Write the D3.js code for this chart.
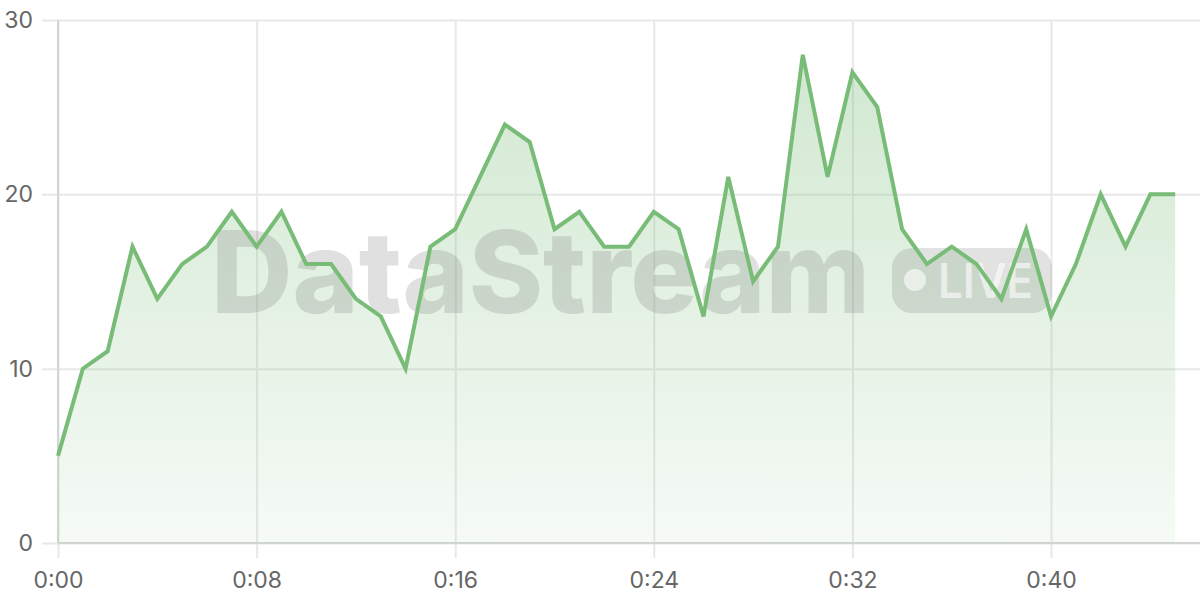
<!DOCTYPE html>
<html>
<head>
<meta charset="utf-8">
<script src="https://cdn.jsdelivr.net/npm/d3@7"></script>
<style>
	html, body { margin: 0; padding: 0; background: #fff; }
	#chart { width: 1200px; height: 600px; }
	text { font-family: Inter, "Open Sans", sans-serif; }
</style>
</head>
<body>
<div id="chart"></div>
<script>
'use strict'

/**
 * Data
 */
const seconds = d3.range(0, 46);
const values = [5, 10, 11, 17, 14, 16, 17, 19, 17, 19,
	16, 16, 14, 13, 10, 17, 18, 21, 24, 23,
	18, 19, 17, 17, 19, 18, 13, 21, 15, 17,
	28, 21, 27, 25, 18, 16, 17, 16, 14, 18,
	13, 16, 20, 17, 20, 20];
const xTicks = [0, 8, 16, 24, 32, 40];
const yTicks = [0, 10, 20, 30];

const width = 1200;
const height = 600;
const margin = { top: 20, right: 0, bottom: 57, left: 58 };

const lineColor = '#78bc78';
const gridColor = '#e8e8e8';
const axisColor = '#d2d6d2';
const labelColor = '#666';

function fmtTime(s) {
	return Math.floor(s / 60) + ':' + String(s % 60).padStart(2, '0');
}

function drawChart() {
	const points = seconds.map((s, i) => ({ s: s, v: values[i] }));

	const svg = d3.select('#chart')
		.html('')
		.append('svg')
		.attr('width', width)
		.attr('height', height);

	const x = d3.scaleLinear()
		.domain([0, 46])
		.range([margin.left, width - margin.right]);
	const y = d3.scaleLinear()
		.domain([0, 30])
		.range([height - margin.bottom, margin.top]);

	// gradient under the line
	const grad = svg.append('defs').append('linearGradient')
		.attr('id', 'fillGrad')
		.attr('gradientUnits', 'userSpaceOnUse')
		.attr('x1', 0).attr('x2', 0)
		.attr('y1', y(30)).attr('y2', y(0));
	grad.append('stop').attr('offset', 0).attr('stop-color', lineColor).attr('stop-opacity', 0.36);
	grad.append('stop').attr('offset', 1).attr('stop-color', lineColor).attr('stop-opacity', 0.07);

	// horizontal grid + y labels
	const yAxis = d3.axisLeft(y)
		.tickValues(yTicks)
		.tickSize(-(width - margin.left - margin.right + 16))
		.tickFormat(d3.format('d'));
	const gy = svg.append('g')
		.attr('transform', `translate(${margin.left - 16},0)`)
		.call(yAxis);
	gy.select('.domain').remove();
	gy.selectAll('.tick line')
		.attr('stroke', gridColor)
		.attr('stroke-width', 2);
	gy.selectAll('.tick text')
		.attr('fill', labelColor)
		.style('font-size', '23px')
		.attr('x', -9);

	// vertical grid + x labels
	const xAxis = d3.axisBottom(x)
		.tickValues(xTicks)
		.tickSize(-(height - margin.top - margin.bottom + 15))
		.tickFormat(fmtTime);
	const gx = svg.append('g')
		.attr('transform', `translate(0,${height - margin.bottom + 15})`)
		.call(xAxis);
	gx.select('.domain').remove();
	gx.selectAll('.tick line')
		.attr('stroke', gridColor)
		.attr('stroke-width', 2);
	gx.selectAll('.tick text')
		.attr('fill', labelColor)
		.style('font-size', '23px')
		.attr('dy', null)
		.attr('y', 30);

	// axis lines
	svg.append('line')
		.attr('x1', x(0)).attr('x2', x(0))
		.attr('y1', y(30)).attr('y2', y(0))
		.attr('stroke', axisColor)
		.attr('stroke-width', 2);
	svg.append('line')
		.attr('x1', x(0)).attr('x2', width)
		.attr('y1', y(0)).attr('y2', y(0))
		.attr('stroke', axisColor)
		.attr('stroke-width', 2);

	// area
	svg.append('path')
		.datum(points)
		.attr('fill', 'url(#fillGrad)')
		.attr('d', d3.area()
			.x(d => x(d.s))
			.y0(y(0))
			.y1(d => y(d.v)));

	// watermark
	const wm = svg.append('g').attr('pointer-events', 'none');
	wm.append('text')
		.attr('x', 211)
		.attr('y', 313)
		.attr('textLength', 659)
		.attr('lengthAdjust', 'spacingAndGlyphs')
		.attr('fill', '#7a7a7a')
		.attr('fill-opacity', 0.23)
		.style('font-size', '114px')
		.style('font-weight', 800)
		.text('DataStream');
	wm.append('rect')
		.attr('x', 892).attr('y', 248)
		.attr('width', 160).attr('height', 65)
		.attr('rx', 20)
		.attr('fill', '#7a7a7a')
		.attr('fill-opacity', 0.22);
	wm.append('circle')
		.attr('cx', 915).attr('cy', 280)
		.attr('r', 11)
		.attr('fill', '#fff')
		.attr('fill-opacity', 0.6);
	wm.append('text')
		.attr('x', 938)
		.attr('y', 298)
		.attr('textLength', 95)
		.attr('lengthAdjust', 'spacingAndGlyphs')
		.attr('fill', '#fff')
		.attr('fill-opacity', 0.6)
		.style('font-size', '48px')
		.style('font-weight', 600)
		.text('LIVE');

	// line
	svg.append('path')
		.datum(points)
		.attr('fill', 'none')
		.attr('stroke', lineColor)
		.attr('stroke-width', 4)
		.attr('stroke-linejoin', 'miter')
		.attr('d', d3.line()
			.x(d => x(d.s))
			.y(d => y(d.v)));
}

drawChart();
</script>
</body>
</html>
